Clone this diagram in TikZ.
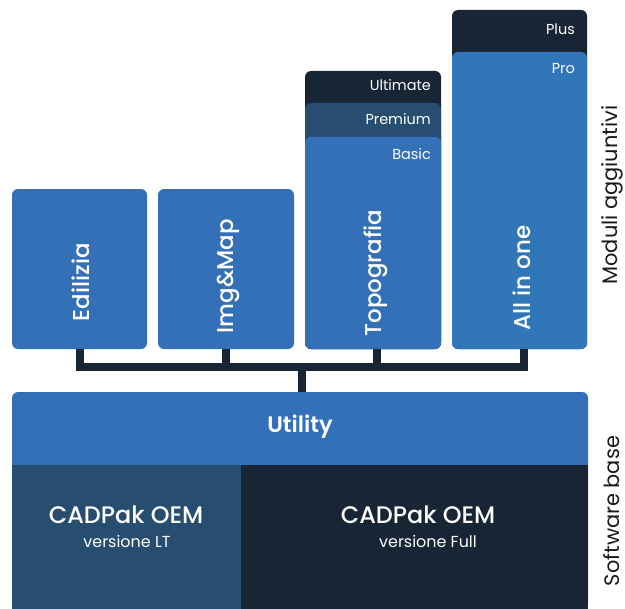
\documentclass[tikz,border=0pt]{standalone}
\usepackage{fontspec}
\setmainfont{Poppins}
\newfontfamily\medfont{Poppins Medium}
\newfontfamily\semifont{Poppins SemiBold}
\definecolor{modblue}{HTML}{3470B7}
\definecolor{aioblue}{HTML}{3176B7}
\definecolor{navy}{HTML}{172535}
\definecolor{midblue}{HTML}{274D71}

\begin{document}
\begin{tikzpicture}[x=1bp,y=-1bp,
  card/.style={rounded corners=6bp},
  modlabel/.style={text=white,rotate=90,font=\medfont\fontsize{23}{23}\selectfont},
  tier/.style={text=white,anchor=east,inner sep=0pt,font=\fontsize{14.5}{15}\selectfont},
  side/.style={rotate=90,inner sep=1pt,text=black!90,font=\fontsize{21}{22}\selectfont},
  link/.style={draw=navy,line width=8bp}]
\useasboundingbox (0,0) rectangle (625,609);

% Moduli
\fill[modblue,card] (12,189) rectangle (147,349);
\fill[modblue,card] (158,189) rectangle (294,349);
\fill[navy,card] (305,71) rectangle (441,349);
\fill[midblue,card] (305,103) rectangle (441,349);
\fill[modblue,card] (305,137) rectangle (441,349);
\fill[navy,card] (452,10) rectangle (587,349);
\fill[aioblue,card] (452,52) rectangle (587,349);

\node[modlabel] (edil) at (81,282) {Edilizia};
\node[modlabel] (img) at (228,276) {Img\&Map};
\node[modlabel] (topo) at (376,273) {Topografia};
\node[modlabel] (aio) at (522,278) {All in one};

\node[tier] (ult) at (431,85) {Ultimate};
\node[tier] (prem) at (431,119) {Premium};
\node[tier] (basic) at (431,154) {Basic};
\node[tier] (plus) at (575,29) {Plus};
\node[tier] (pro) at (575,69) {Pro};

% Software base
\fill[modblue,card] (12,392) rectangle (588,609);
\fill[midblue] (12,465) rectangle (241,609);
\fill[navy] (241,465) rectangle (588,609);

\node[text=white,font=\semifont\fontsize{22.5}{23}\selectfont] (util) at (300,427) {Utility};
\node[text=white,font=\medfont\fontsize{24}{24}\selectfont] (lt) at (126,515) {CADPak OEM};
\node[text=white,font=\fontsize{16}{16}\selectfont] (ltver) at (127,542) {versione LT};
\node[text=white,font=\medfont\fontsize{24}{24}\selectfont] (full) at (418,515) {CADPak OEM};
\node[text=white,font=\fontsize{16}{16}\selectfont] (fullver) at (428,542) {versione Full};

% Collegamenti
\coordinate (bedil) at (80,349);
\coordinate (bimg) at (226,349);
\coordinate (btopo) at (377,349);
\coordinate (baio) at (524,349);
\coordinate (hub) at (301.5,367);
\coordinate (bbase) at (301.5,392);
\draw[link] (bedil) |- (hub) -| (baio);
\draw[link] (bimg) -- (bimg |- hub);
\draw[link] (btopo) -- (btopo |- hub);
\draw[link] (hub) -- (bbase);

% Etichette laterali
\node[side] (moduli) at (612,195) {Moduli aggiuntivi};
\node[side] (base) at (612,511) {Software base};
\end{tikzpicture}
\end{document}
